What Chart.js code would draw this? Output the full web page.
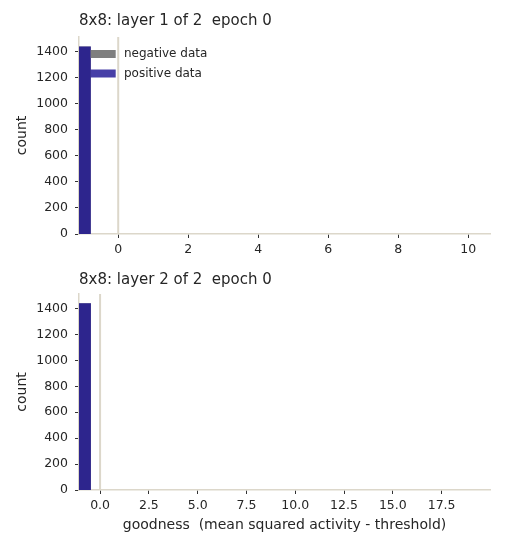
<!DOCTYPE html>
<html>
<head>
<meta charset="utf-8">
<script src="https://cdn.jsdelivr.net/npm/chart.js@4.4.1/dist/chart.umd.min.js"></script>
<style>
    body { margin: 0; background: #fff; }
    #wrap { position: relative; width: 506px; height: 550px; }
    canvas { position: absolute; left: 0; }
</style>
</head>
<body>
<div id="wrap">
    <canvas id="layer1" width="506" height="265" style="top:0"></canvas>
    <canvas id="layer2" width="506" height="285" style="top:265px"></canvas>
</div>
<script>
// --- datos ---
const layer1Edges = [-1.12, -0.78];
const layer1Neg = [1440];
const layer1Pos = [1440];
const layer1XTicks = [0, 2, 4, 6, 8, 10];
const layer1XRange = [-1.12, 10.64];

const layer2Edges = [-1.08, -0.47];
const layer2Neg = [1440];
const layer2Pos = [1440];
const layer2XTicks = [0, 2.5, 5, 7.5, 10, 12.5, 15, 17.5];
const layer2XRange = [-1.08, 19.98];

const yTicks = [0, 200, 400, 600, 800, 1000, 1200, 1400];
const yMax = 1512;
const threshold = 0;

const spineColor = "#dcd7ca";
const textColor = "#262626";
const font = "'DejaVu Sans', sans-serif";

// convierte bordes + cuentas en un escalón relleno
function stepPoints(edges, counts) {
    const pts = [];
    counts.forEach((c, i) => {
        pts.push({ x: edges[i], y: c });
        pts.push({ x: edges[i + 1], y: c });
    });
    return pts;
}

// línea vertical del umbral, usando la escala x
const thresholdLine = {
    id: "thresholdLine",
    beforeDatasetsDraw(chart) {
        const x = chart.scales.x.getPixelForValue(threshold);
        const area = chart.chartArea;
        const ctx = chart.ctx;
        ctx.save();
        ctx.strokeStyle = spineColor;
        ctx.lineWidth = 2;
        ctx.beginPath();
        ctx.moveTo(x, area.top);
        ctx.lineTo(x, area.bottom);
        ctx.stroke();
        ctx.restore();
    },
};

// leyenda dentro del área del gráfico (arriba a la izquierda)
const innerLegend = {
    id: "innerLegend",
    afterDatasetsDraw(chart, args, opts) {
        if (!opts.display) return;
        const area = chart.chartArea;
        const ctx = chart.ctx;
        ctx.save();
        ctx.font = "12px " + font;
        ctx.textBaseline = "middle";
        ctx.textAlign = "left";
        chart.data.datasets.forEach((ds, i) => {
            const top = area.top + 13 + i * 19.5;
            ctx.fillStyle = ds.backgroundColor;
            ctx.fillRect(area.left + 11.7, top, 25, 8);
            ctx.fillStyle = textColor;
            ctx.fillText(ds.label, area.left + 45, top + 4);
        });
        ctx.restore();
    },
};

function makeChart(id, opts) {
    new Chart(document.getElementById(id), {
        type: "line",
        data: {
            datasets: [
                {
                    label: "negative data",
                    data: stepPoints(opts.edges, opts.neg),
                    backgroundColor: "#7f7f7f",
                    borderWidth: 0,
                    pointRadius: 0,
                    fill: "origin",
                    order: 2,
                },
                {
                    label: "positive data",
                    data: stepPoints(opts.edges, opts.pos),
                    backgroundColor: "rgba(25, 15, 145, 0.8)",
                    borderWidth: 0,
                    pointRadius: 0,
                    fill: "origin",
                    order: 1,
                },
            ],
        },
        options: {
            responsive: false,
            animation: false,
            layout: { padding: { left: 0, right: opts.padRight, top: 0, bottom: 0 } },
            scales: {
                x: {
                    type: "linear",
                    min: opts.xRange[0],
                    max: opts.xRange[1],
                    afterBuildTicks: (s) => { s.ticks = opts.xTicks.map((v) => ({ value: v })); },
                    afterFit: (s) => { s.height = opts.xHeight; },
                    border: { color: spineColor, width: 1.5 },
                    grid: { drawOnChartArea: false, drawTicks: true, tickLength: 4, tickColor: "#333", tickWidth: 1 },
                    ticks: {
                        color: textColor,
                        font: { family: font, size: 12.5 },
                        padding: 4,
                        maxRotation: 0,
                        autoSkip: false,
                        callback: opts.xFormat,
                    },
                    title: opts.xTitle
                        ? {
                              display: true,
                              text: opts.xTitle,
                              color: textColor,
                              font: { family: font, size: 14 },
                              padding: { top: 0, bottom: 16 },
                          }
                        : { display: false },
                },
                y: {
                    min: 0,
                    max: yMax,
                    afterBuildTicks: (s) => { s.ticks = yTicks.map((v) => ({ value: v })); },
                    afterFit: (s) => { s.width = 79; },
                    border: { color: spineColor, width: 1.5 },
                    grid: { drawOnChartArea: false, drawTicks: true, tickLength: 4, tickColor: "#333", tickWidth: 1 },
                    ticks: {
                        color: textColor,
                        font: { family: font, size: 12.5 },
                        padding: 7,
                        callback: (v) => String(v),
                    },
                    title: {
                        display: true,
                        text: "count",
                        color: textColor,
                        font: { family: font, size: 14 },
                        padding: 14,
                    },
                },
            },
            plugins: {
                title: {
                    display: true,
                    text: opts.title,
                    align: "start",
                    fullSize: false,
                    color: textColor,
                    font: { family: font, size: 15, weight: "normal" },
                    padding: opts.titlePad,
                },
                legend: { display: false },
                innerLegend: { display: opts.legend },
                tooltip: { enabled: false },
            },
        },
        plugins: [thresholdLine, innerLegend],
    });
}

makeChart("layer1", {
    edges: layer1Edges,
    neg: layer1Neg,
    pos: layer1Pos,
    xTicks: layer1XTicks,
    xRange: layer1XRange,
    xFormat: (v) => String(v),
    xHeight: 31,
    xTitle: null,
    padRight: 15.3,
    title: "8x8: layer 1 of 2  epoch 0",
    titlePad: { top: 12.5, bottom: 6.5 },
    legend: true,
});

makeChart("layer2", {
    edges: layer2Edges,
    neg: layer2Neg,
    pos: layer2Pos,
    xTicks: layer2XTicks,
    xRange: layer2XRange,
    xFormat: (v) => Number(v).toFixed(1),
    xHeight: 60,
    xTitle: "goodness  (mean squared activity - threshold)",
    padRight: 16,
    title: "8x8: layer 2 of 2  epoch 0",
    titlePad: { top: 5.8, bottom: 5.2 },
    legend: false,
});
</script>
</body>
</html>
